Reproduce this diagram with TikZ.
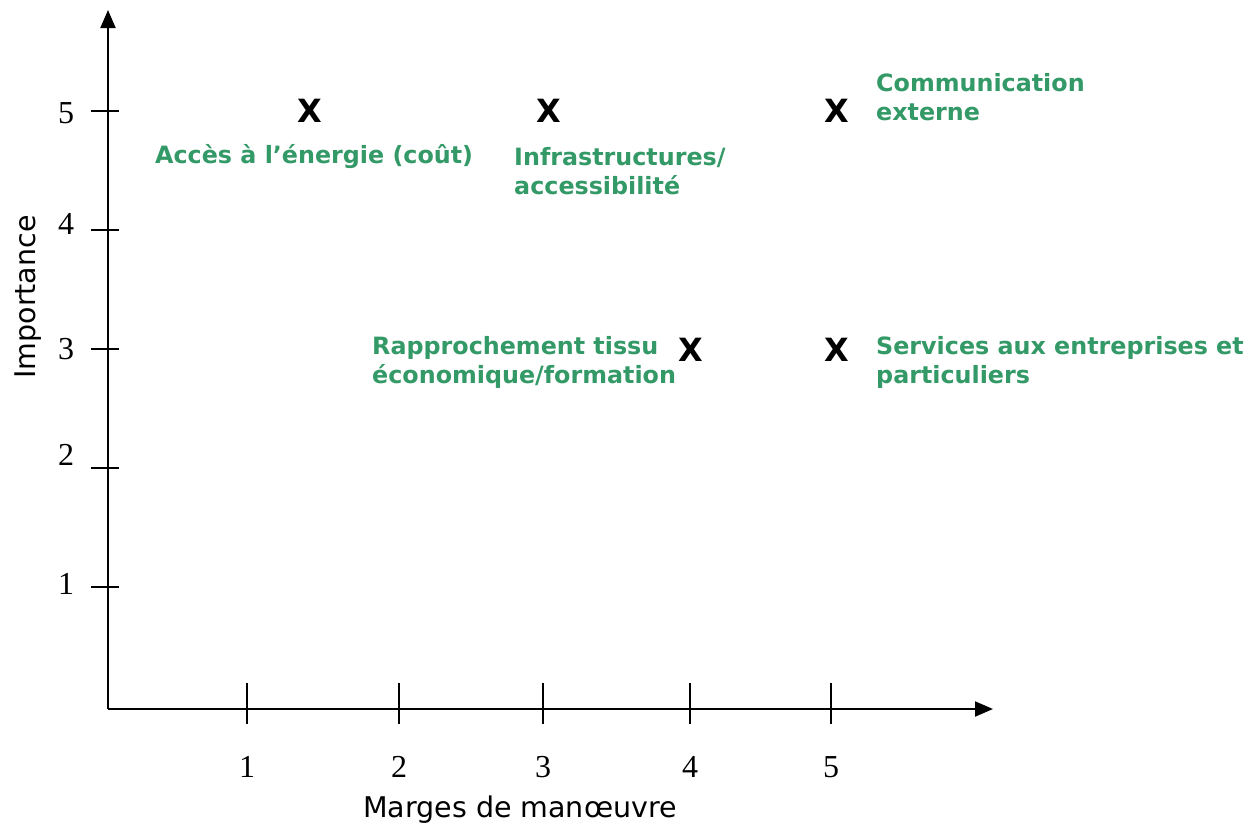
\documentclass[tikz,border=0pt]{standalone}
\usepackage{fontspec}
\usetikzlibrary{arrows.meta}
\newfontfamily\verd{DejaVu Sans}
\newfontfamily\tnr{Liberation Serif}
\definecolor{labgreen}{RGB}{51,153,102}
\begin{document}
\begin{tikzpicture}[x=1pt,y=-1pt,
  axis/.style={line width=2pt,-{Triangle[length=18pt,width=15pt]}},
  tickline/.style={line width=1.6pt},
  num/.style={font=\tnr\fontsize{32}{34}\selectfont,inner sep=0pt},
  xmark/.style={font=\verd\bfseries\fontsize{32}{34}\selectfont,inner sep=0pt},
  lab/.style={font=\verd\bfseries\fontsize{23.8}{29}\selectfont,text=labgreen,inner sep=0pt,align=left,anchor=west},
  axlab/.style={font=\verd\fontsize{28.5}{32}\selectfont,inner sep=0pt}]
\useasboundingbox (0,0) rectangle (1246,828);
\coordinate (O) at (108,709);
\coordinate (ytop) at (108,10);
\coordinate (xend) at (993,709);
\draw[axis] (O) -- (ytop);
\draw[axis] (O) -- (xend);
% x ticks
\foreach \n/\x in {1/247,2/399,3/543,4/690,5/831}{
  \coordinate (xt\n a) at (\x,683);
  \coordinate (xt\n b) at (\x,724);
  \draw[tickline] (xt\n a) -- (xt\n b);
  \node[num] (xl\n) at (\x,767) {\n};
}
% y ticks
\foreach \n/\y in {5/111,4/230,3/349,2/468,1/587}{
  \coordinate (yt\n a) at (91,\y);
  \coordinate (yt\n b) at (119,\y);
  \draw[tickline] (yt\n a) -- (yt\n b);
}
\node[num] (yl5) at (66,113) {5};
\node[num] (yl4) at (66,224) {4};
\node[num] (yl3) at (66,349) {3};
\node[num] (yl2) at (66,455) {2};
\node[num] (yl1) at (66,584) {1};
% axis labels
\node[axlab,rotate=90] (ylab) at (28,297) {Importance};
\node[axlab] (xlab) at (520,810) {Marges de manœuvre};
% marks
\node[xmark] (m1) at (310,111) {X};
\node[xmark] (m2) at (549,111) {X};
\node[xmark] (m3) at (837,111) {X};
\node[xmark] (m4) at (691,350) {X};
\node[xmark] (m5) at (837,350) {X};
% labels
\node[lab] (l1) at (155,157) {Accès à l’énergie (coût)};
\node[lab] (l2) at (514,171) {Infrastructures/\\accessibilité};
\node[lab] (l3) at (876,97) {Communication\\externe};
\node[lab] (l4) at (372,362) {Rapprochement tissu\\économique/formation};
\node[lab] (l5) at (876,362) {Services aux entreprises et\\particuliers};
\end{tikzpicture}
\end{document}
